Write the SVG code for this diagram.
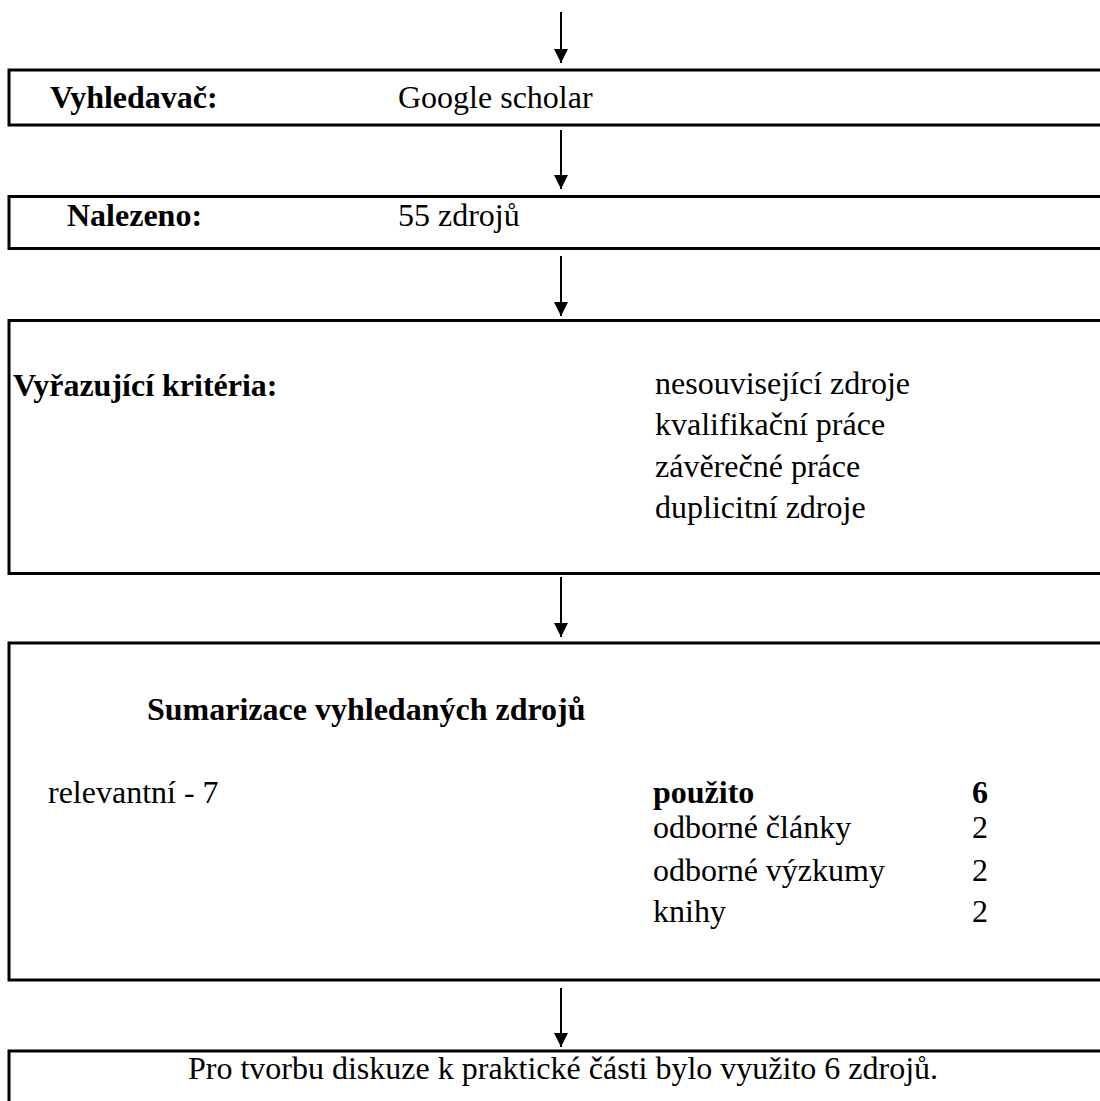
<svg xmlns="http://www.w3.org/2000/svg" width="1100" height="1101" viewBox="0 0 1100 1101">
<style>
.box{fill:#fff;stroke:#000;stroke-width:3}
.t{font-family:"Liberation Serif","Times New Roman",serif;font-size:32px;fill:#000}
.b{font-weight:bold}
.c{stroke:#000;stroke-width:2;fill:none}
</style>
<defs>
<marker id="ah" markerWidth="7" markerHeight="7" refX="7" refY="3.5" orient="auto" markerUnits="strokeWidth">
<path d="M0,0 L7,3.5 L0,7 Z" fill="#000"/>
</marker>
</defs>
<rect width="1100" height="1101" fill="#fff"/>
<g id="connectors">
<line class="c" x1="561" y1="12" x2="561" y2="63" marker-end="url(#ah)"/>
<line class="c" x1="561" y1="130" x2="561" y2="189" marker-end="url(#ah)"/>
<line class="c" x1="561" y1="256" x2="561" y2="316" marker-end="url(#ah)"/>
<line class="c" x1="561" y1="577" x2="561" y2="637" marker-end="url(#ah)"/>
<line class="c" x1="561" y1="988" x2="561" y2="1047" marker-end="url(#ah)"/>
</g>
<g id="node-vyhledavac">
<rect class="box" x="9" y="70" width="1100" height="55"/>
<text class="t b" x="50" y="108">Vyhledavač:</text>
<text class="t" x="398" y="108">Google scholar</text>
</g>
<g id="node-nalezeno">
<rect class="box" x="9" y="196.5" width="1100" height="52"/>
<text class="t b" x="67" y="226">Nalezeno:</text>
<text class="t" x="398" y="226">55 zdrojů</text>
</g>
<g id="node-kriteria">
<rect class="box" x="9" y="320.5" width="1100" height="253"/>
<text class="t b" x="13" y="396">Vyřazující kritéria:</text>
<text class="t" x="655" y="394">nesouvisející zdroje</text>
<text class="t" x="655" y="435">kvalifikační práce</text>
<text class="t" x="655" y="477">závěrečné práce</text>
<text class="t" x="655" y="518">duplicitní zdroje</text>
</g>
<g id="node-sumarizace">
<rect class="box" x="9" y="643" width="1100" height="337"/>
<text class="t b" x="147" y="720">Sumarizace vyhledaných zdrojů</text>
<text class="t" x="48" y="803">relevantní - 7</text>
<text class="t b" x="653" y="803">použito</text>
<text class="t b" x="988" y="803" text-anchor="end">6</text>
<text class="t" x="653" y="838">odborné články</text>
<text class="t" x="988" y="838" text-anchor="end">2</text>
<text class="t" x="653" y="881">odborné výzkumy</text>
<text class="t" x="988" y="881" text-anchor="end">2</text>
<text class="t" x="653" y="922">knihy</text>
<text class="t" x="988" y="922" text-anchor="end">2</text>
</g>
<g id="node-zaver">
<rect class="box" x="9" y="1051" width="1100" height="80"/>
<text class="t" x="563" y="1079" text-anchor="middle">Pro tvorbu diskuze k praktické části bylo využito 6 zdrojů.</text>
</g>
</svg>
